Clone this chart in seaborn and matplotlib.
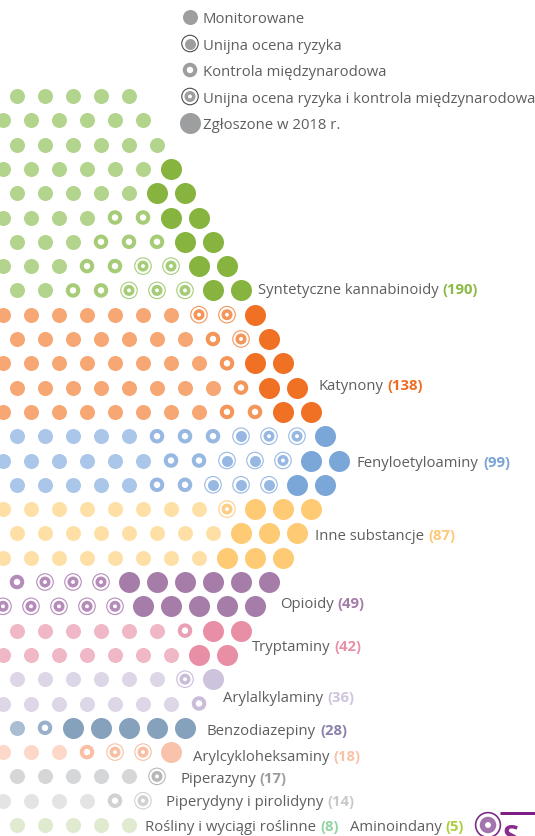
import matplotlib
matplotlib.use("Agg")
import matplotlib.pyplot as plt
import seaborn as sns
import pandas as pd

sns.set_theme(style="white")
plt.rcParams['font.family'] = ['Open Sans', 'DejaVu Sans']

# --- data -------------------------------------------------------------
groups = ['Syntetyczne kannabinoidy', 'Katynony', 'Fenyloetyloaminy', 'Inne substancje',
          'Opioidy', 'Tryptaminy', 'Arylalkylaminy', 'Benzodiazepiny', 'Arylcykloheksaminy',
          'Piperazyny', 'Piperydyny i pirolidyny', 'Rośliny i wyciągi roślinne', 'Aminoindany']
totals = [190, 138, 99, 87, 49, 42, 36, 28, 18, 17, 14, 8, 5]

# visible part of every row, left to right (the chart is cropped on the left)
# M monitorowane, U unijna ocena ryzyka, K kontrola miedzynarodowa,
# D ocena ryzyka + kontrola, N zgloszone w 2018 r.
rows_syn = ['MMMMM', 'MMMMMM', 'MMMMMM', 'MMMMMMN', 'MMMMMNN',
            'MMMMKKNN', 'MMMKKKNN', 'MMMKKDDNN', 'MMKKDDDNN']
rows_kat = ['MMMMMMMDDN', 'MMMMMMMKDN', 'MMMMMMMMKNN', 'MMMMMMMMKNN', 'MMMMMMMMKKNN']
rows_fen = ['MMMMMKKKUDDN', 'MMMMMMKKUUDNN', 'MMMMMKKUUUNN']
rows_inne = ['MMMMMMMMDNNN', 'MMMMMMMMNNN', 'MMMMMMMMNNN']
rows_opi = ['KDDDNNNNNN', 'DDDDDNNNNN']
rows_try = ['MMMMMMKNN', 'MMMMMMMNN']
rows_arylalk = ['MMMMMMDN', 'MMMMMMMK']
rows_benzo = ['MKNNNNN']
rows_arylcyk = ['MMMKDDN']
rows_pipz = ['MMMMMD']
rows_pipd = ['MMMMKD']
rows_rosl = ['MMMMM']
rows_amino = ['D']
group_rows = [rows_syn, rows_kat, rows_fen, rows_inne, rows_opi, rows_try, rows_arylalk,
              rows_benzo, rows_arylcyk, rows_pipz, rows_pipd, rows_rosl]

light = ['#b3d48c', '#f7a774', '#aac6e8', '#fee0a6', '#cdb0d0', '#f0b8c6', '#ddd6e6',
         '#a9bdd3', '#fdd8c8', '#d5d6d8', '#e4e4e5', '#dfeacf', '#b99ac0']
mid = ['#a6cc78', '#f4955a', '#97b8e2', '#fdcf86', '#b48bb9', '#e9a0b4', '#c9bdda',
       '#98b0ca', '#f9bea4', '#b6b7b9', '#d1d1d3', '#cfe0b8', '#a474ae']
dark = ['#86b43f', '#f07024', '#7ba6d8', '#fecb74', '#a67ca9', '#e88fa6', '#cdc3dc',
        '#86a1bc', '#f8c3aa', '#a9aaac', '#cfcfd0', '#c9dcae', '#7c2c89']
count_col = ['#8cb944', '#ef6c22', '#78a3d6', '#fdc877', '#a47aa8', '#e98fa6', '#cec4dc',
             '#8b80ab', '#f8c1a8', '#9c9c9c', '#c8c8c8', '#92d3a0', '#a9cf3e']

legend_labels = ['Monitorowane', 'Unijna ocena ryzyka', 'Kontrola międzynarodowa',
                 'Unijna ocena ryzyka i kontrola międzynarodowa', 'Zgłoszone w 2018 r.']
legend_kinds = ['M', 'U', 'K', 'D', 'N']

# --- layout -----------------------------------------------------------
W, H = 535, 837
X0, DX = 17, 28          # hex grid
Y0, DY = 97, 24.3
TEXT = '#5e5e5e'
FS = 10.7
PX = 0.72                # points per pixel at dpi 100

# label anchor (x, y) for each group
label_pos = [(258, 289), (318, 385), (357, 462), (315, 535), (280, 603), (252, 646),
             (223, 697), (207, 730), (193, 756), (180, 778), (166, 801), (145, 826),
             (350, 826)]

recs = []
i = 0
for g, rows in enumerate(group_rows):
    for code in rows:
        x0 = X0 if i % 2 == 0 else X0 - DX / 2
        for k, ch in enumerate(code):
            recs.append(dict(x=x0 + DX * k, y=Y0 + DY * i, kind=ch, group=g))
        i += 1
df = pd.DataFrame(recs)


def sz(d):
    return (d * PX) ** 2


def draw_marks(ax, sub, kind, c_light, c_mid, c_dark, c_outer=None, scale=1.0):
    if len(sub) == 0:
        return
    c_outer = c_outer or c_mid
    kw = dict(data=sub, x='x', y='y', ax=ax, legend=False)
    if kind == 'M':
        sns.scatterplot(**kw, s=sz(15 * scale), color=c_light, linewidth=0)
    elif kind == 'N':
        sns.scatterplot(**kw, s=sz(21 * scale), color=c_dark, linewidth=0)
    elif kind == 'K':
        sns.scatterplot(**kw, s=sz(10.5 * scale), color=c_mid, facecolor='none',
                        edgecolor=c_mid, linewidth=4 * PX * scale)
    elif kind == 'U':
        sns.scatterplot(**kw, s=sz(16.5 * scale), color=c_outer, facecolor='none',
                        edgecolor=c_outer, linewidth=1.1 * PX * scale)
        sns.scatterplot(**kw, s=sz(11 * scale), color=c_mid, linewidth=0)
    elif kind == 'D':
        sns.scatterplot(**kw, s=sz(16.5 * scale), color=c_outer, facecolor='none',
                        edgecolor=c_outer, linewidth=1.1 * PX * scale)
        sns.scatterplot(**kw, s=sz(7.5 * scale), color=c_mid, facecolor='none',
                        edgecolor=c_mid, linewidth=3.5 * PX * scale)


fig = plt.figure(figsize=(W / 100, H / 100), dpi=100)
ax = fig.add_axes([0, 0, 1, 1])
ax.set_xlim(0, W)
ax.set_ylim(H, 0)
ax.axis('off')

for g in range(len(group_rows)):
    sub = df[df['group'] == g]
    for kind in 'MKUDN':
        draw_marks(ax, sub[sub['kind'] == kind], kind, light[g], mid[g], dark[g])

# legend
leg = pd.DataFrame(dict(x=[190] * 5, y=[18 + 26.5 * j for j in range(5)], kind=legend_kinds))
for j, kind in enumerate(legend_kinds):
    draw_marks(ax, leg[leg['kind'] == kind], kind, '#9d9ea0', '#9d9ea0', '#9d9ea0',
               c_outer='#4a4a4a')
    ax.text(203, leg['y'][j] + 5, legend_labels[j], fontsize=FS, color=TEXT, va='baseline')

# group labels: grey name + bold coloured count
fig.canvas.draw()
r = fig.canvas.get_renderer()
inv = ax.transData.inverted()
for g, name in enumerate(groups):
    lx, ly = label_pos[g]
    t = ax.text(lx, ly + 5, name, fontsize=FS, color=TEXT, va='baseline')
    bb = t.get_window_extent(renderer=r)
    x_end = inv.transform((bb.x1, bb.y0))[0]
    ax.text(x_end + 4, ly + 5, f'({totals[g]})', fontsize=FS, fontweight='bold',
            color=count_col[g], va='baseline')

# Aminoindany marker (larger, next to its label)
amino = pd.DataFrame(dict(x=[488], y=[826]))
draw_marks(ax, amino, 'D', light[12], mid[12], dark[12], c_outer=dark[12], scale=1.5)

# start of the next section, cut by the frame
ax.plot([500, W], [814, 814], color='#7d1e85', linewidth=3 * PX, solid_capstyle='butt')
ax.text(503, 846, 'S', fontsize=21, fontweight='bold', color='#8b2b8f',
        va='baseline', clip_on=True)

fig.savefig('out.png', dpi=100)
